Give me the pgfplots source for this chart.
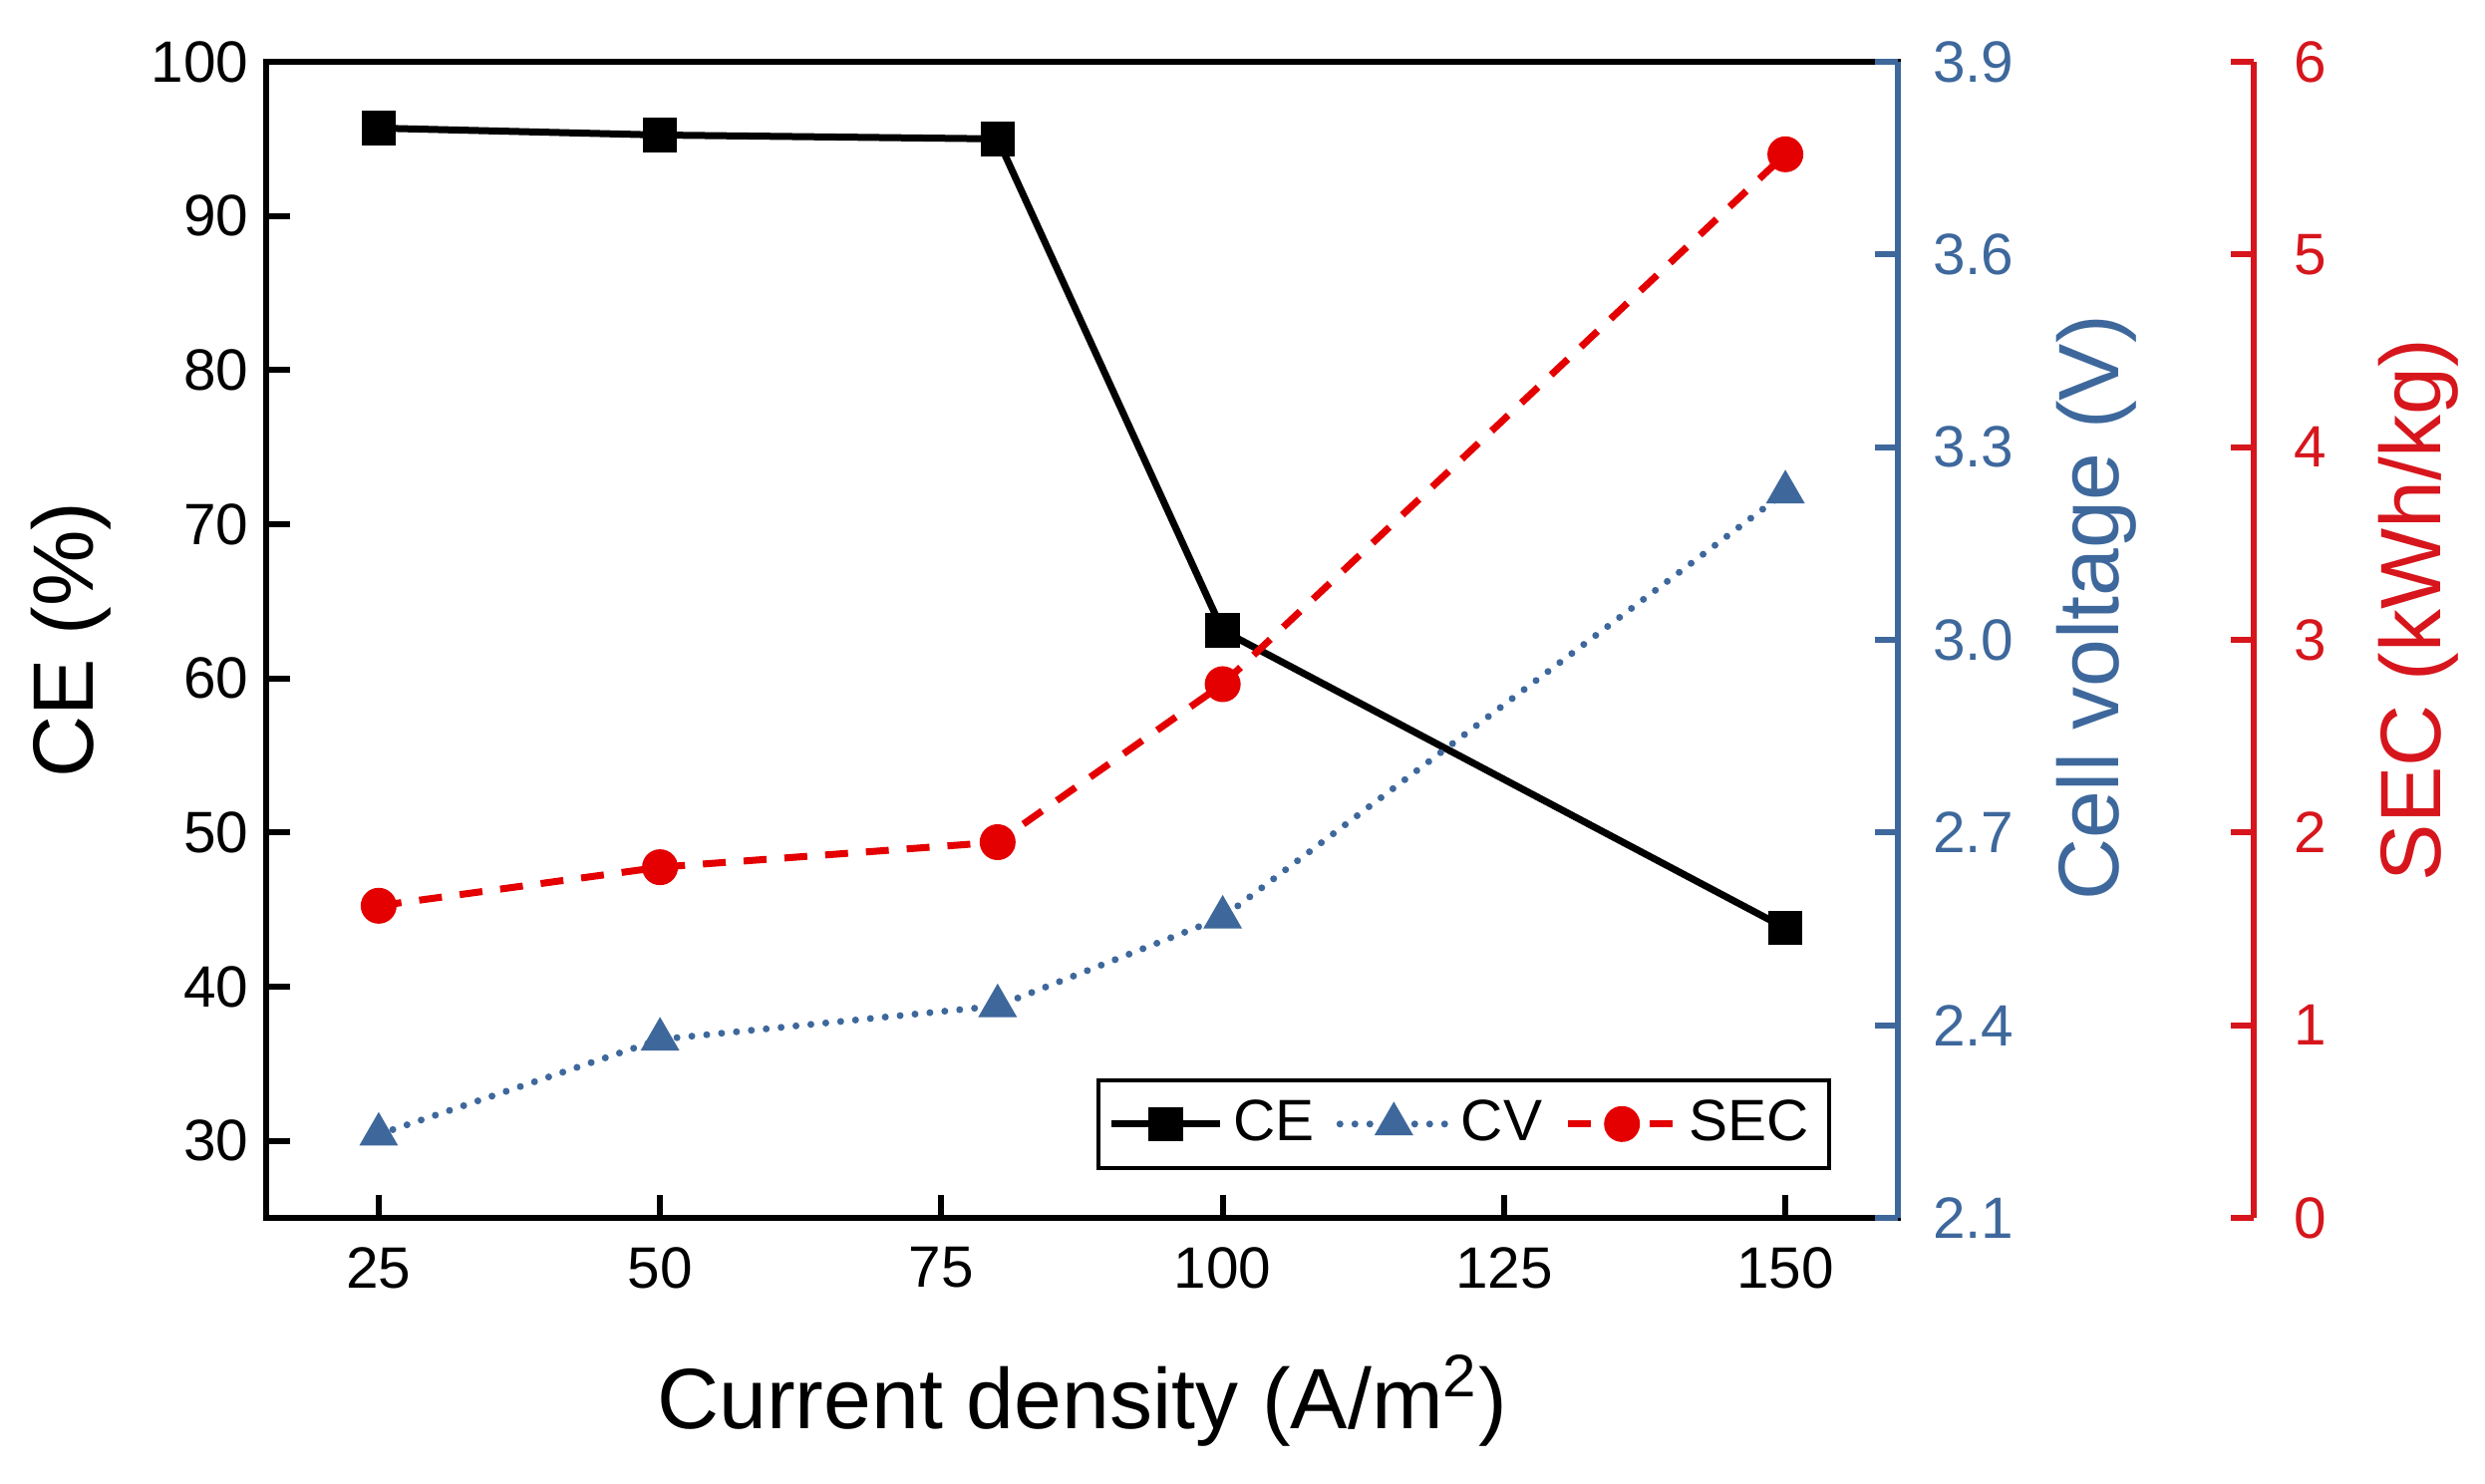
\documentclass[border=0pt]{standalone}
\usepackage{fontspec}
\setmainfont{Liberation Sans}
\usepackage{pgfplots}
\pgfplotsset{compat=1.18}
\definecolor{blueC}{RGB}{62,104,156}
\definecolor{redC}{RGB}{228,0,0}
\definecolor{redA}{RGB}{214,22,28}
\newcommand{\tickfont}{\fontsize{11.7pt}{14pt}\selectfont}
\newcommand{\labfont}{\fontsize{17.2pt}{20pt}\selectfont}
\begin{document}
\begin{tikzpicture}
\useasboundingbox (0,0) rectangle (498.6pt,297.6pt);
\pgfplotsset{
  common/.style={
    scale only axis, height=232pt,
    at={(53.4pt,53.2pt)}, anchor=south west,
    /pgf/number format/assume math mode=true,
    tick label style={font=\tickfont},
    major tick length=4.7pt,
  },
  legend image code/.code={\draw[mark repeat=2,mark phase=2,#1] plot coordinates {(0cm,0cm)(0.38cm,0cm)(0.76cm,0cm)};},
}
% CE axis
\begin{axis}[common,
  width=327.4pt,
  xmin=15, xmax=160, ymin=25, ymax=100,
  xtick={25,50,75,100,125,150}, ytick={30,40,...,100},
  xtick pos=left, ytick pos=left,
  tick align=inside,
  xticklabel style={yshift=-2.4pt},
  axis line style={line width=1.2pt},
  tick style={black, line width=1.2pt},
  xlabel={Current density (A/m\textsuperscript{2})},
  ylabel={CE (\%)},
  every axis x label/.style={at={(axis description cs:0.5003,-0.182)}, anchor=base, font=\labfont},
  every axis y label/.style={at={(axis description cs:-0.106,0.5)}, rotate=90, anchor=base, font=\labfont},
]
\addplot[black, line width=1.4pt, mark=square*, mark size=2.75pt, mark options={solid}]
  coordinates {(25,95.7)(50,95.25)(80,95.0)(100,63.1)(150,43.8)};
\end{axis}
% CV axis
\begin{axis}[common,
  width=327.4pt,
  xmin=15, xmax=160, ymin=2.1, ymax=3.9,
  axis x line=none, axis y line*=right,
  xtick=\empty,
  ytick={2.1,2.4,2.7,3.0,3.3,3.6,3.9},
  tick align=inside,
  yticklabel style={/pgf/number format/.cd, fixed, fixed zerofill, precision=1, /tikz/.cd, blueC, xshift=3.5pt},
  axis line style={blueC, line width=1.2pt},
  tick style={blueC, line width=1.2pt},
  ylabel={Cell voltage (V)},
  every axis y label/.style={at={(axis description cs:1.1353,0.5276)}, rotate=90, anchor=base, blueC, font=\labfont},
]
\addplot[blueC, line width=1.4pt, dash pattern=on 0pt off 3pt, line cap=round, mark=triangle*, mark size=4.1pt, mark options={solid, line width=0.4pt}]
  coordinates {(25,2.23)(50,2.378)(80,2.43)(100,2.568)(150,3.23)};
\end{axis}
% SEC axis
\begin{axis}[common,
  width=398.8pt,
  xmin=15, xmax=191.62, ymin=0, ymax=6,
  axis x line=none, axis y line*=right,
  xtick=\empty,
  ytick={0,1,...,6},
  tick align=inside,
  yticklabel style={redA, xshift=4.5pt},
  axis line style={redA, line width=1.2pt},
  tick style={redA, line width=1.2pt},
  ylabel={SEC (kWh/kg)},
  every axis y label/.style={at={(axis description cs:1.0938,0.526)}, rotate=90, anchor=base, redA, font=\labfont},
  legend columns=3,
  legend style={at={(axis description cs:0.7874,0.0414)}, anchor=south east,
    draw=black, line width=0.8pt, font=\tickfont, inner xsep=2pt, inner ysep=2pt,
    /tikz/every even column/.append style={column sep=2.5pt}},
]
\addlegendimage{black, line width=1.4pt, mark=square*, mark size=2.75pt, mark options={solid}}
\addlegendentry{CE}
\addlegendimage{blueC, line width=1.4pt, dash pattern=on 0pt off 3pt, line cap=round, mark=triangle*, mark size=4.1pt, mark options={solid, line width=0.4pt}}
\addlegendentry{CV}
\addplot[redC, line width=1.4pt, dash pattern=on 4.6pt off 3.6pt, mark=*, mark size=2.9pt, mark options={solid}]
  coordinates {(25,1.62)(50,1.82)(80,1.95)(100,2.77)(150,5.52)};
\addlegendentry{SEC}
\end{axis}
\end{tikzpicture}
\end{document}
